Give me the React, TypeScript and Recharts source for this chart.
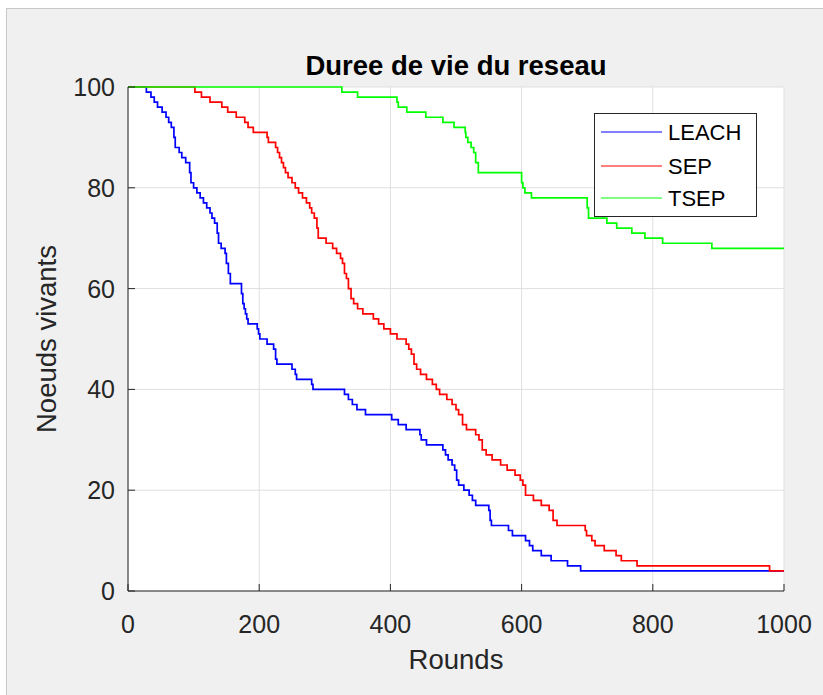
import React from "react";
import { LineChart, Line, XAxis, YAxis, CartesianGrid, Legend, Label } from "recharts";

// step points (round at which the alive count changes)
const leachRounds = [0, 28, 35, 40, 45, 52, 58, 62, 66, 70, 72, 78, 82, 88, 94, 96, 100, 105, 110, 115, 120, 125, 128, 132, 136, 138, 142, 148, 150, 153, 156, 173, 175, 177, 179, 181, 183, 197, 199, 201, 204, 206, 212, 222, 225, 227, 250, 255, 257, 280, 282, 330, 336, 342, 349, 362, 402, 412, 424, 445, 447, 455, 480, 484, 488, 494, 498, 501, 504, 512, 520, 525, 530, 550, 552, 554, 580, 586, 606, 612, 617, 630, 645, 670, 690, 1000];
const leachNodes = [100, 99, 98, 97, 96, 95, 94, 93, 92, 90, 88, 87, 86, 85, 83, 81, 80, 79, 78, 77, 76, 75, 74, 73, 71, 69, 68, 67, 65, 63, 61, 59, 57, 56, 55, 54, 53, 52, 51, 50, 50, 50, 49, 48, 46, 45, 44, 43, 42, 41, 40, 39, 38, 37, 36, 35, 34, 33, 32, 31, 30, 29, 28, 27, 26, 25, 24, 22, 21, 20, 19, 18, 17, 16, 14, 13, 12, 11, 10, 9, 8, 7, 6, 5, 4, 4];

const sepRounds = [0, 102, 112, 125, 143, 152, 165, 178, 183, 191, 212, 214, 225, 228, 231, 234, 237, 240, 244, 250, 255, 260, 266, 272, 277, 280, 284, 288, 290, 302, 312, 318, 324, 327, 330, 333, 336, 340, 344, 350, 358, 374, 382, 390, 400, 410, 424, 428, 432, 436, 440, 446, 455, 464, 470, 475, 486, 494, 500, 504, 510, 516, 530, 535, 540, 546, 555, 568, 578, 590, 598, 602, 606, 618, 630, 642, 648, 654, 697, 699, 707, 712, 726, 744, 752, 776, 978, 1000];
const sepNodes = [100, 99, 98, 97, 96, 95, 94, 93, 92, 91, 90, 89, 88, 87, 86, 85, 84, 83, 82, 81, 80, 79, 78, 77, 76, 75, 74, 72, 70, 69, 68, 67, 66, 65, 63, 62, 60, 58, 57, 56, 55, 54, 53, 52, 51, 50, 49, 48, 47, 45, 44, 43, 42, 41, 40, 39, 38, 37, 36, 35, 33, 32, 31, 30, 28, 27, 26, 25, 24, 23, 22, 21, 19, 18, 17, 16, 14, 13, 12, 11, 10, 9, 8, 7, 6, 5, 4, 4];

const tsepRounds = [0, 326, 350, 410, 412, 425, 454, 480, 497, 514, 515, 518, 523, 527, 530, 534, 600, 602, 605, 615, 700, 702, 730, 745, 768, 788, 815, 890, 1000];
const tsepNodes = [100, 99, 98, 97, 96, 95, 94, 93, 92, 91, 90, 89, 88, 87, 85, 83, 81, 80, 79, 78, 76, 74, 73, 72, 71, 70, 69, 68, 68];

const xTicks = [0, 200, 400, 600, 800, 1000];
const yTicks = [0, 20, 40, 60, 80, 100];

const toRows = (rounds: number[], nodes: number[]) => rounds.map((r, i) => ({ round: r, alive: nodes[i] }));

const leach = toRows(leachRounds, leachNodes);
const sep = toRows(sepRounds, sepNodes);
const tsep = toRows(tsepRounds, tsepNodes);

const FONT = '"Liberation Sans", Arial, Helvetica, sans-serif';
const AXIS = "#262626";
const TICK_LEN = 7;

const BottomTick = (props: any) => {
  const { x, y, payload } = props;
  return (
    <g>
      <line x1={x} y1={y} x2={x} y2={y - TICK_LEN} stroke={AXIS} strokeWidth={1} />
      <text x={x} y={y + 42} textAnchor="middle" fill={AXIS} fontSize={25} fontFamily={FONT}>
        {payload.value}
      </text>
    </g>
  );
};

const TopTick = (props: any) => {
  const { x, y } = props;
  return <line x1={x} y1={y} x2={x} y2={y + TICK_LEN} stroke={AXIS} strokeWidth={1} />;
};

const LeftTick = (props: any) => {
  const { x, y, payload } = props;
  return (
    <g>
      <line x1={x} y1={y} x2={x + TICK_LEN} y2={y} stroke={AXIS} strokeWidth={1} />
      <text x={x - 13} y={y + 9} textAnchor="end" fill={AXIS} fontSize={25} fontFamily={FONT}>
        {payload.value}
      </text>
    </g>
  );
};

const RightTick = (props: any) => {
  const { x, y } = props;
  return <line x1={x} y1={y} x2={x - TICK_LEN} y2={y} stroke={AXIS} strokeWidth={1} />;
};

const renderLegend = (props: any) => {
  const { payload } = props;
  const rows = [19, 53, 85];
  return (
    <svg width={164} height={105} style={{ display: "block" }}>
      <rect x={0.5} y={0.5} width={162} height={103} fill="#fff" stroke={AXIS} strokeWidth={1} />
      {(payload || []).map((entry: any, i: number) => (
        <g key={entry.value}>
          <line x1={7} y1={rows[i]} x2={68} y2={rows[i]} stroke={entry.color} strokeWidth={1.2} />
          <text x={74} y={rows[i] + 8} fontSize={22} fontFamily={FONT} fill="#000">
            {entry.value}
          </text>
        </g>
      ))}
    </svg>
  );
};

const YTitle = (props: any) => {
  const { viewBox } = props;
  const cy = viewBox.y + viewBox.height / 2;
  return (
    <text
      x={56}
      y={cy}
      transform={`rotate(-90, 56, ${cy})`}
      textAnchor="middle"
      fontSize={27.5}
      fontFamily={FONT}
      fill={AXIS}
    >
      Noeuds vivants
    </text>
  );
};

export default function App() {
  return (
    <div style={{ position: "absolute", left: 0, top: 0, width: 823, height: 695, overflow: "hidden", background: "#fff" }}>
      <div
        style={{
          position: "absolute",
          left: 6,
          top: 8,
          width: 840,
          height: 720,
          background: "#f0f0f0",
          border: "1px solid #c8c8c8",
        }}
      />
      <div style={{ position: "absolute", left: 0, top: 0 }}>
        <LineChart width={823} height={695} margin={{ top: 87, right: 39, left: 68, bottom: 26 }}>
          <CartesianGrid stroke="#dfdfdf" strokeWidth={1} fill="#fff" />
          <XAxis
            dataKey="round"
            type="number"
            domain={[0, 1000]}
            ticks={xTicks}
            height={78}
            tickSize={0}
            tickMargin={0}
            tickLine={false}
            tick={<BottomTick />}
            axisLine={{ stroke: AXIS, strokeWidth: 1 }}
            interval={0}
          >
            <Label
              value="Rounds"
              position="insideBottom"
              offset={0}
              fontSize={27.5}
              fontFamily={FONT}
              fill={AXIS}
            />
          </XAxis>
          <XAxis
            xAxisId="top"
            orientation="top"
            dataKey="round"
            type="number"
            domain={[0, 1000]}
            ticks={xTicks}
            height={0}
            tickSize={0}
            tickMargin={0}
            tickLine={false}
            tick={<TopTick />}
            axisLine={{ stroke: AXIS, strokeWidth: 1 }}
            interval={0}
          />
          <YAxis
            type="number"
            domain={[0, 100]}
            ticks={yTicks}
            width={60}
            tickSize={0}
            tickMargin={0}
            tickLine={false}
            tick={<LeftTick />}
            axisLine={{ stroke: AXIS, strokeWidth: 1 }}
            interval={0}
          >
            <Label content={<YTitle />} />
          </YAxis>
          <YAxis
            yAxisId="right"
            orientation="right"
            type="number"
            domain={[0, 100]}
            ticks={yTicks}
            width={0}
            tickSize={0}
            tickMargin={0}
            tickLine={false}
            tick={<RightTick />}
            axisLine={{ stroke: AXIS, strokeWidth: 1 }}
            interval={0}
          />
          <Legend
            layout="vertical"
            align="center"
            verticalAlign="middle"
            content={renderLegend}
            wrapperStyle={{ left: 594, top: 113, width: 164, height: 105 }}
          />
          <Line data={leach} dataKey="alive" name="LEACH" type="stepAfter" stroke="#0000ff" strokeWidth={1.7} dot={false} activeDot={false} isAnimationActive={false} />
          <Line data={sep} dataKey="alive" name="SEP" type="stepAfter" stroke="#ff0000" strokeWidth={1.7} dot={false} activeDot={false} isAnimationActive={false} />
          <Line data={tsep} dataKey="alive" name="TSEP" type="stepAfter" stroke="#00ff00" strokeWidth={1.7} dot={false} activeDot={false} isAnimationActive={false} />
        </LineChart>
      </div>
      <svg width={823} height={90} style={{ position: "absolute", left: 0, top: 0, pointerEvents: "none" }}>
        <text x={456} y={75} textAnchor="middle" fontSize={27.5} fontWeight="bold" fontFamily={FONT} fill="#000">
          Duree de vie du reseau
        </text>
      </svg>
    </div>
  );
}
